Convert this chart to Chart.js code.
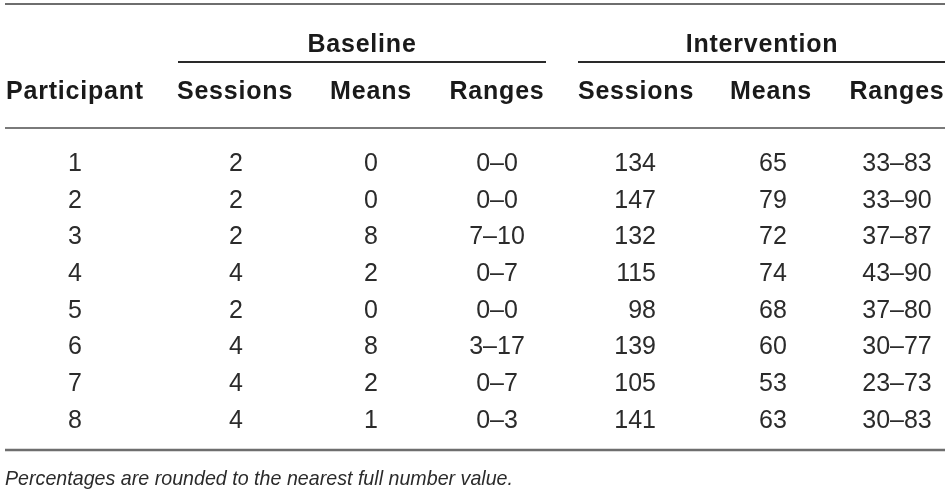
<!DOCTYPE html>
<html>
<head>
<meta charset="utf-8">
<script src="https://cdn.jsdelivr.net/npm/chart.js@4/dist/chart.umd.min.js"></script>
<style>
  html, body { margin: 0; padding: 0; background: #fff; }
  #wrap { width: 950px; height: 494px; position: relative; }
</style>
</head>
<body>
<div id="wrap"><canvas id="chartTabla"></canvas></div>
<script>
// table data
const participants = ['1', '2', '3', '4', '5', '6', '7', '8'];
const baselineSessions = [2, 2, 2, 4, 2, 4, 4, 4];
const baselineMeans = [0, 0, 8, 2, 0, 8, 2, 1];
const baselineRanges = ['0–0', '0–0', '7–10', '0–7', '0–0', '3–17', '0–7', '0–3'];
const interventionSessions = [134, 147, 132, 115, 98, 139, 105, 141];
const interventionMeans = [65, 79, 72, 74, 68, 60, 53, 63];
const interventionRanges = ['33–83', '33–90', '37–87', '43–90', '37–80', '30–77', '23–73', '30–83'];
const groupHeaders = ['Baseline', 'Intervention'];
const columnHeaders = ['Participant', 'Sessions', 'Means', 'Ranges', 'Sessions', 'Means', 'Ranges'];
const footnote = 'Percentages are rounded to the nearest full number value.';

// layout (x in px units of the x scale, y in row units of the y scale)
const colX = [75, 236, 371, 497, 656, 773, 897];
const colAlign = ['center', 'center', 'center', 'center', 'right', 'center', 'center'];
const headX = [75, 235, 371, 497, 636, 771, 897];
const groupX = [362, 762];
const groupSpan = [[178, 546], [578, 945]];
const rowStep = 36.7;
const firstRowPx = 164;

const columns = [participants, baselineSessions, baselineMeans, baselineRanges,
    interventionSessions, interventionMeans, interventionRanges];

const fontData = '400 25px "Liberation Sans", Arial, sans-serif';
const fontHead = '700 25px "Liberation Sans", Arial, sans-serif';

function cellDataset(values, c) {
    return {
        label: columnHeaders[c],
        data: values.map((v, r) => ({ x: colX[c], y: r })),
        texts: values.map(v => String(v)),
        align: colAlign[c],
        font: fontData,
        color: '#2b2b2b',
        pointRadius: 0
    };
}

const datasets = columns.map(cellDataset);
datasets.push({
    label: 'headers',
    data: columnHeaders.map((h, c) => ({ x: headX[c], y: -1.95 })),
    texts: columnHeaders,
    align: 'center',
    font: fontHead,
    spacing: '0.8px',
    color: '#1a1a1a',
    pointRadius: 0
});
datasets.push({
    label: 'groups',
    data: groupHeaders.map((h, g) => ({ x: groupX[g], y: -3.24 })),
    texts: groupHeaders,
    align: 'center',
    font: fontHead,
    spacing: '0.8px',
    color: '#1a1a1a',
    pointRadius: 0
});
datasets.push({
    label: 'footnote',
    data: [{ x: 5, y: 8.58 }],
    texts: [footnote],
    align: 'left',
    font: 'italic 400 21px "Liberation Sans Narrow", "Liberation Sans", Arial, sans-serif',
    color: '#2b2b2b',
    maxWidth: 508,
    pointRadius: 0
});

const rules = [
    { y: -4.36, x0: 5, x1: 945, w: 2, color: '#6e6e6e' },
    { y: -2.78, x0: groupSpan[0][0], x1: groupSpan[0][1], w: 2, color: '#2a2a2a' },
    { y: -2.78, x0: groupSpan[1][0], x1: groupSpan[1][1], w: 2, color: '#2a2a2a' },
    { y: -0.98, x0: 5, x1: 945, w: 2, color: '#7a7a7a' },
    { y: 7.79, x0: 5, x1: 945, w: 2.5, color: '#6e6e6e' }
];

const tablePlugin = {
    id: 'tablePlugin',
    beforeDatasetsDraw(chart) {
        const ctx = chart.ctx;
        const xs = chart.scales.x, ys = chart.scales.y;
        ctx.save();
        rules.forEach(r => {
            const y = ys.getPixelForValue(r.y);
            ctx.strokeStyle = r.color;
            ctx.lineWidth = r.w;
            ctx.beginPath();
            ctx.moveTo(xs.getPixelForValue(r.x0), y);
            ctx.lineTo(xs.getPixelForValue(r.x1), y);
            ctx.stroke();
        });
        ctx.restore();
    },
    afterDatasetsDraw(chart) {
        const ctx = chart.ctx;
        ctx.save();
        ctx.textBaseline = 'middle';
        chart.data.datasets.forEach((ds, i) => {
            const meta = chart.getDatasetMeta(i);
            ctx.font = ds.font;
            ctx.fillStyle = ds.color;
            ctx.textAlign = ds.align;
            if ('letterSpacing' in ctx) ctx.letterSpacing = ds.spacing || '0px';
            meta.data.forEach((pt, j) => {
                if (ds.maxWidth) {
                    ctx.fillText(ds.texts[j], pt.x, pt.y, ds.maxWidth);
                } else {
                    ctx.fillText(ds.texts[j], pt.x, pt.y);
                }
            });
        });
        ctx.restore();
    }
};

const yMin = -firstRowPx / rowStep;
const yMax = yMin + 494 / rowStep;

const ctx = document.getElementById('chartTabla').getContext('2d');
const tabla = new Chart(ctx, {
    type: 'scatter',
    data: { datasets: datasets },
    options: {
        responsive: true,
        maintainAspectRatio: false,
        animation: false,
        events: [],
        layout: { padding: 0 },
        plugins: {
            legend: { display: false },
            tooltip: { enabled: false }
        },
        scales: {
            x: { type: 'linear', display: false, min: 0, max: 950 },
            y: { type: 'linear', display: false, reverse: true, min: yMin, max: yMax }
        }
    },
    plugins: [tablePlugin]
});
</script>
</body>
</html>
